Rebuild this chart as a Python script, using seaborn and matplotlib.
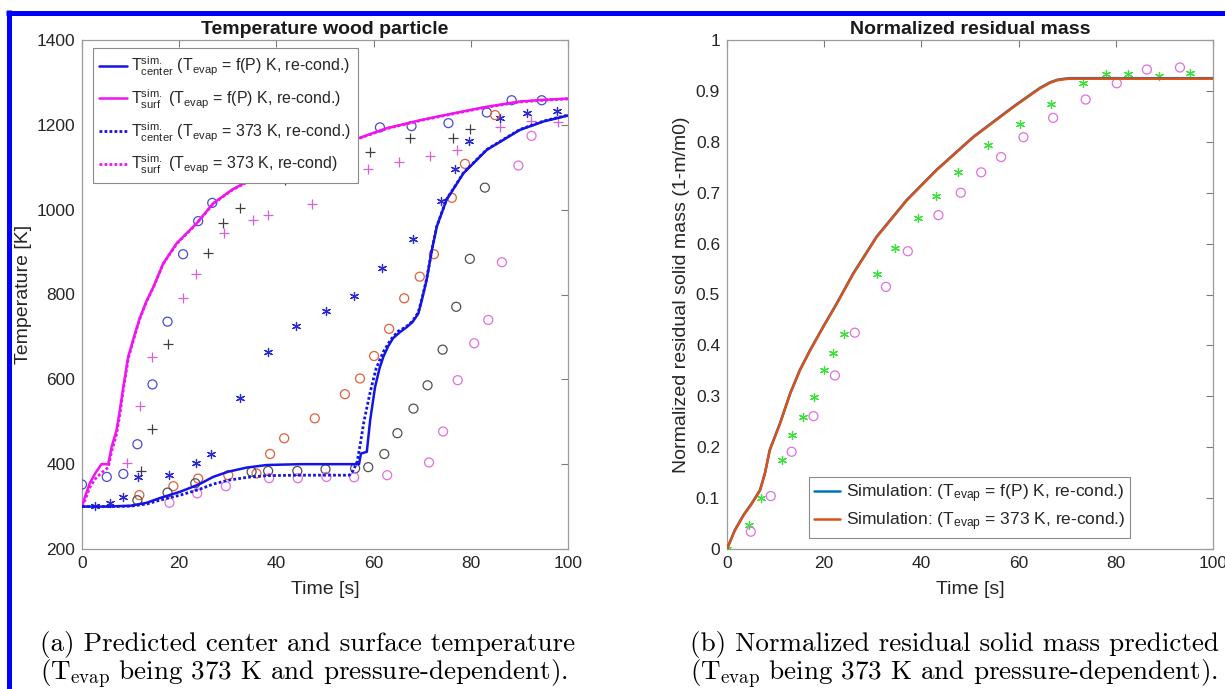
import numpy as np
import pandas as pd
import seaborn as sns
import matplotlib
matplotlib.use("Agg")
import matplotlib.pyplot as plt
from matplotlib.lines import Line2D

# ---------------- data: left panel (temperature) ----------------
t_center_fp = [0, 5, 10, 13.3, 16, 20.2, 24, 27, 30, 33.9, 38, 45, 50, 57.0, 57.4, 58.6, 59.3, 60.3, 61.2, 62,
               63, 64, 65.5, 66.7, 68, 69.2, 70.0, 70.9, 72, 73, 75, 78.5, 83.3, 90.1, 95, 100]
T_center_fp = [300, 300, 302, 309, 320, 335, 352, 370, 382, 392, 398, 400, 400, 400, 425, 429, 504, 582, 625, 653,
               678, 697, 712, 722, 735, 755, 790, 834, 905, 960, 1023, 1086, 1141, 1188, 1208, 1222]

t_center_373 = [0, 5, 10, 13.3, 16, 20.2, 24, 27, 30, 34, 38, 45, 50, 55.0, 55.8, 56.6, 57.3, 58.0, 59.3, 60.5,
                62.0, 63.5, 65, 66.7, 68, 69.2, 70.0, 70.9, 72, 73, 75, 78.5, 83.3, 90.1, 95, 100]
T_center_373 = [300, 300, 301, 306, 315, 327, 340, 353, 362, 369, 373, 374, 374, 374, 385, 405, 450, 500, 570, 625,
                665, 693, 713, 724, 737, 758, 793, 836, 906, 961, 1024, 1087, 1142, 1189, 1209, 1223]

t_surf_fp = [0, 0.6, 1.6, 2.7, 4.0, 5.4, 6.1, 7.1, 7.8, 8.5, 9.5, 10.9, 11.9, 13.3, 14.7, 16.7, 19.5, 23.6, 27,
             31, 35.3, 40, 45, 50, 55.8, 62.7, 70, 76.4, 83, 90.1, 95, 100]
T_surf_fp = [300, 323, 355, 378, 400, 400, 441, 480, 528, 582, 653, 708, 745, 785, 818, 873, 921, 968, 1015,
             1048, 1074, 1100, 1125, 1146, 1164, 1192, 1212, 1227, 1242, 1255, 1259, 1262]

t_surf_373 = [0, 0.6, 1.6, 2.7, 4.0, 5.4, 6.1, 7.1, 7.8, 8.5, 9.5, 10.9, 11.9, 13.3, 14.7, 16.7, 19.5, 23.6, 27,
              31, 35.3, 40, 45, 50, 55.8, 62.7, 70, 76.4, 83, 90.1, 95, 100]
T_surf_373 = [300, 315, 345, 365, 380, 392, 430, 470, 518, 575, 648, 705, 743, 784, 817, 872, 920, 967, 1014,
              1047, 1073, 1099, 1124, 1145, 1163, 1191, 1211, 1226, 1241, 1254, 1258, 1261]

# experimental markers
t_blue_o = [0, 5.1, 8.5, 11.4, 14.5, 17.6, 20.8, 23.9, 26.8, 61.3, 67.8, 75.4, 83.3, 88.4, 94.6]
T_blue_o = [352, 370, 377, 447, 588, 736, 895, 973, 1016, 1194, 1197, 1204, 1229, 1258, 1258]

t_black_plus = [12.1, 14.5, 17.6, 26, 29.1, 32.5, 41.8, 59.3, 67.5, 76.4, 79.8]
T_black_plus = [384, 482, 683, 899, 968, 1003, 1070, 1137, 1168, 1168, 1189]

t_mag_plus = [9.2, 11.9, 14.5, 20.8, 23.4, 29.2, 35.2, 38.3, 47.3, 58.9, 65.3, 71.6, 77.1, 86, 92.3, 98]
T_mag_plus = [403, 537, 653, 791, 848, 944, 976, 987, 1013, 1096, 1113, 1127, 1141, 1194, 1209, 1207]

t_blue_star = [2.7, 5.8, 8.5, 11.6, 17.8, 23.4, 26.5, 32.5, 38.3, 44, 50.3, 56, 61.8, 68.2, 73.8, 76.8, 79.7,
               86, 91.6, 97.8]
T_blue_star = [302, 309, 323, 370, 374, 402, 423, 557, 664, 726, 762, 796, 863, 931, 1021, 1095, 1162,
               1215, 1229, 1233]

t_orange_o = [11.8, 18.8, 23.9, 30.1, 35.9, 38.7, 41.6, 47.9, 54.1, 57.2, 60.1, 63.2, 66.3, 69.5, 72.4, 76.1,
              78.8, 85]
T_orange_o = [327, 348, 366, 374, 378, 424, 461, 508, 565, 602, 655, 719, 791, 842, 895, 1028, 1108, 1223]

t_grey_o = [11.4, 17.6, 23.3, 34.9, 38.3, 44.3, 50.1, 56.2, 58.9, 62.2, 64.9, 68.2, 71.1, 74.2, 77, 79.8, 82.9]
T_grey_o = [315, 333, 355, 382, 384, 384, 388, 390, 393, 424, 473, 531, 586, 670, 771, 884, 1052]

t_pink_o = [18, 23.7, 29.6, 38.5, 44.4, 50.3, 56, 62.8, 71.4, 74.3, 77.3, 80.7, 83.6, 86.4, 89.8, 92.5]
T_pink_o = [309, 331, 348, 367, 367, 370, 369, 374, 404, 477, 598, 685, 740, 876, 1104, 1174]

# ---------------- data: right panel (residual mass) ----------------
t_mass_fp = [0, 1.6, 3.4, 5.1, 6.8, 7.8, 8.8, 10.9, 13, 15, 17.1, 19.8, 22.6, 26, 30.8, 37, 43.1, 50.7, 58.9,
             62, 64.4, 66.5, 68, 69.5, 70.6, 72, 100]
m_mass_fp = [0, 0.037, 0.067, 0.09, 0.116, 0.149, 0.195, 0.247, 0.306, 0.352, 0.391, 0.437, 0.483, 0.542, 0.614,
             0.686, 0.745, 0.81, 0.869, 0.89, 0.906, 0.917, 0.922, 0.924, 0.925, 0.925, 0.925]
t_mass_373 = [0, 1.6, 3.4, 5.1, 6.8, 7.8, 8.8, 10.9, 13, 15, 17.1, 19.8, 22.6, 26, 30.8, 37, 43.1, 50.7, 58.9,
              62, 64.4, 66.5, 68, 69.5, 70.6, 72, 100]
m_mass_373 = [0, 0.036, 0.066, 0.089, 0.115, 0.148, 0.194, 0.246, 0.305, 0.351, 0.390, 0.436, 0.482, 0.541, 0.613,
              0.685, 0.744, 0.809, 0.868, 0.889, 0.905, 0.916, 0.921, 0.923, 0.924, 0.924, 0.924]

t_green_star = [0, 4.6, 6.9, 11.4, 13.3, 15.7, 17.8, 20, 21.9, 24.1, 30.8, 34.6, 39.2, 43.1, 47.6, 53.8, 60.3,
                66.7, 73.3, 77.9, 82.6, 88.8, 95.3]
m_green_star = [0, 0.047, 0.1, 0.175, 0.223, 0.26, 0.298, 0.352, 0.386, 0.422, 0.54, 0.591, 0.651, 0.694, 0.741,
                0.794, 0.835, 0.874, 0.916, 0.933, 0.933, 0.93, 0.935]

t_pink_mass = [4.9, 9, 13.3, 17.8, 22.2, 26.3, 32.7, 37.2, 43.5, 48.1, 52.3, 56.4, 61, 67.1, 73.8, 80.2, 86.4, 93.2]
m_pink_mass = [0.034, 0.104, 0.191, 0.261, 0.341, 0.425, 0.515, 0.585, 0.656, 0.7, 0.74, 0.77, 0.809, 0.847,
               0.883, 0.915, 0.942, 0.946]

x_ticks = [0, 20, 40, 60, 80, 100]
yT_ticks = [200, 400, 600, 800, 1000, 1200, 1400]
ym_ticks = [0, 0.1, 0.2, 0.3, 0.4, 0.5, 0.6, 0.7, 0.8, 0.9, 1]
ym_labels = ["0", "0.1", "0.2", "0.3", "0.4", "0.5", "0.6", "0.7", "0.8", "0.9", "1"]

# ---------------- styling ----------------
sns.set_style("white")
plt.rcParams["font.family"] = ["Liberation Sans", "DejaVu Sans"]
plt.rcParams["mathtext.fontset"] = "custom"
plt.rcParams["mathtext.rm"] = "Liberation Sans"
plt.rcParams["mathtext.it"] = "Liberation Sans"
plt.rcParams["mathtext.sf"] = "cmr10"

W, H = 1225, 689
fig = plt.figure(figsize=(W / 100, H / 100), dpi=100)
fig.patch.set_facecolor("white")

def px_axes(x0, x1, y0, y1):
    return fig.add_axes([x0 / W, 1 - y1 / H, (x1 - x0) / W, (y1 - y0) / H])

axL = px_axes(82, 568, 40, 549)
axR = px_axes(727, 1213, 40, 549)

BLUE = "#1414e6"
MAG = "#f014f0"
ms = 42

def style_axes(ax):
    for s in ax.spines.values():
        s.set_visible(True)
        s.set_color("#9a9a9a")
        s.set_linewidth(0.9)
    ax.tick_params(direction="in", top=True, right=True, length=5, width=0.8,
                   color="#7a7a7a", labelcolor="#262626", labelsize=12.5, pad=5)
    ax.set_facecolor("white")

def open_circles(ax, x, y, c):
    sns.scatterplot(x=x, y=y, ax=ax, marker="o", s=ms, facecolors="none",
                    edgecolor=c, linewidth=0.9, zorder=3)

def line_markers(ax, x, y, c, m, s=ms):
    sns.scatterplot(x=x, y=y, ax=ax, marker=m, s=s, color=c, linewidth=0.9, zorder=3)

# ---------------- left panel ----------------
open_circles(axL, t_blue_o, T_blue_o, "#4a4ad8")
line_markers(axL, t_black_plus, T_black_plus, "#404040", "+")
line_markers(axL, t_mag_plus, T_mag_plus, "#d860d8", "+")
line_markers(axL, t_blue_star, T_blue_star, "#2a2ad0", (6, 2, 0), s=34)
open_circles(axL, t_orange_o, T_orange_o, "#e0603a")
open_circles(axL, t_grey_o, T_grey_o, "#505050")
open_circles(axL, t_pink_o, T_pink_o, "#e070e0")

sns.lineplot(x=t_surf_373, y=T_surf_373, ax=axL, color=MAG, lw=2.0, linestyle=(0, (1, 0.8)), zorder=4)
sns.lineplot(x=t_surf_fp, y=T_surf_fp, ax=axL, color=MAG, lw=1.8, zorder=4)
sns.lineplot(x=t_center_373, y=T_center_373, ax=axL, color=BLUE, lw=2.0, linestyle=(0, (1, 0.8)), zorder=4)
sns.lineplot(x=t_center_fp, y=T_center_fp, ax=axL, color=BLUE, lw=1.8, zorder=4)

axL.set_xlim(0, 100)
axL.set_ylim(200, 1400)
axL.set_xticks(x_ticks)
axL.set_yticks(yT_ticks)
style_axes(axL)
axL.set_xlabel("Time [s]", fontsize=14, color="#262626", labelpad=7)
axL.set_ylabel("Temperature [K]", fontsize=14, color="#262626", labelpad=3)
axL.set_title("Temperature wood particle", fontsize=14, fontweight="bold", color="#1a1a1a", pad=4)

handlesL = [
    Line2D([], [], color=BLUE, lw=1.8),
    Line2D([], [], color=MAG, lw=1.8),
    Line2D([], [], color=BLUE, lw=2.0, linestyle=(0, (1, 0.8))),
    Line2D([], [], color=MAG, lw=2.0, linestyle=(0, (1, 0.8))),
]
labelsL = [
    r"$\mathrm{T}^{\mathrm{sim.}}_{\mathrm{center}}$ (T$_{\mathrm{evap}}$ = f(P) K, re-cond.)",
    r"$\mathrm{T}^{\mathrm{sim.}}_{\mathrm{surf}}$ (T$_{\mathrm{evap}}$ = f(P) K, re-cond.)",
    r"$\mathrm{T}^{\mathrm{sim.}}_{\mathrm{center}}$ (T$_{\mathrm{evap}}$ = 373 K, re-cond.)",
    r"$\mathrm{T}^{\mathrm{sim.}}_{\mathrm{surf}}$ (T$_{\mathrm{evap}}$ = 373 K, re-cond)",
]
legL = axL.legend(handlesL, labelsL, loc="upper left", bbox_to_anchor=(0.0226, 0.984),
                  fontsize=11.5, frameon=True, fancybox=False, framealpha=1, edgecolor="#8a8a8a",
                  handlelength=1.7, handletextpad=0.3, borderpad=0.4, labelspacing=0.6,
                  borderaxespad=0)
legL.get_frame().set_linewidth(0.8)
legL.set_zorder(10)

# ---------------- right panel ----------------
line_markers(axR, t_green_star, m_green_star, "#3ee03e", (6, 2, 0), s=34)
open_circles(axR, t_pink_mass, m_pink_mass, "#e070e0")
sns.lineplot(x=t_mass_fp, y=m_mass_fp, ax=axR, color="#0072bd", lw=1.8, zorder=4)
sns.lineplot(x=t_mass_373, y=m_mass_373, ax=axR, color="#d95319", lw=1.8, zorder=4)

axR.set_xlim(0, 100)
axR.set_ylim(0, 1)
axR.set_xticks(x_ticks)
axR.set_yticks(ym_ticks)
axR.set_yticklabels(ym_labels)
style_axes(axR)
axR.set_xlabel("Time [s]", fontsize=14, color="#262626", labelpad=7)
axR.set_ylabel("Normalized residual solid mass (1-m/m0)", fontsize=14, color="#262626", labelpad=4)
axR.set_title("Normalized residual mass", fontsize=14, fontweight="bold", color="#1a1a1a", pad=4)

handlesR = [Line2D([], [], color="#0072bd", lw=1.8), Line2D([], [], color="#d95319", lw=1.8)]
labelsR = [r"Simulation: (T$_{\mathrm{evap}}$ = f(P) K, re-cond.)",
           r"Simulation: (T$_{\mathrm{evap}}$ = 373 K, re-cond.)"]
legR = axR.legend(handlesR, labelsR, loc="lower left", bbox_to_anchor=(0.169, 0.0216),
                  fontsize=12.5, frameon=True, fancybox=False, framealpha=1, edgecolor="#8a8a8a",
                  handlelength=1.5, handletextpad=0.3, borderpad=0.3, labelspacing=0.3,
                  borderaxespad=0)
legR.get_frame().set_linewidth(0.8)

# ---------------- captions ----------------
cap_kw = dict(fontfamily="cmr10", fontsize=19.5, color="black", va="baseline", ha="left")
fig.text(40 / W, 1 - 651 / H, "(a) Predicted center and surface temperature", **cap_kw)
fig.text(40 / W, 1 - 679 / H, r"(T$_{\mathsf{evap}}$ being 373 K and pressure-dependent).", **cap_kw)
fig.text(690 / W, 1 - 651 / H, "(b) Normalized residual solid mass predicted", **cap_kw)
fig.text(690 / W, 1 - 679 / H, r"(T$_{\mathsf{evap}}$ being 373 K and pressure-dependent).", **cap_kw)

# ---------------- blue frame ----------------
fig.add_artist(Line2D([6 / W, 1], [1 - 12.5 / H, 1 - 12.5 / H], transform=fig.transFigure,
                      color="#0000ff", lw=3.6, solid_capstyle="butt"))
fig.add_artist(Line2D([9 / W, 9 / W], [0, 1 - 10 / H], transform=fig.transFigure,
                      color="#0000ff", lw=3.6, solid_capstyle="butt"))

fig.savefig("out.png", dpi=100, facecolor="white")
